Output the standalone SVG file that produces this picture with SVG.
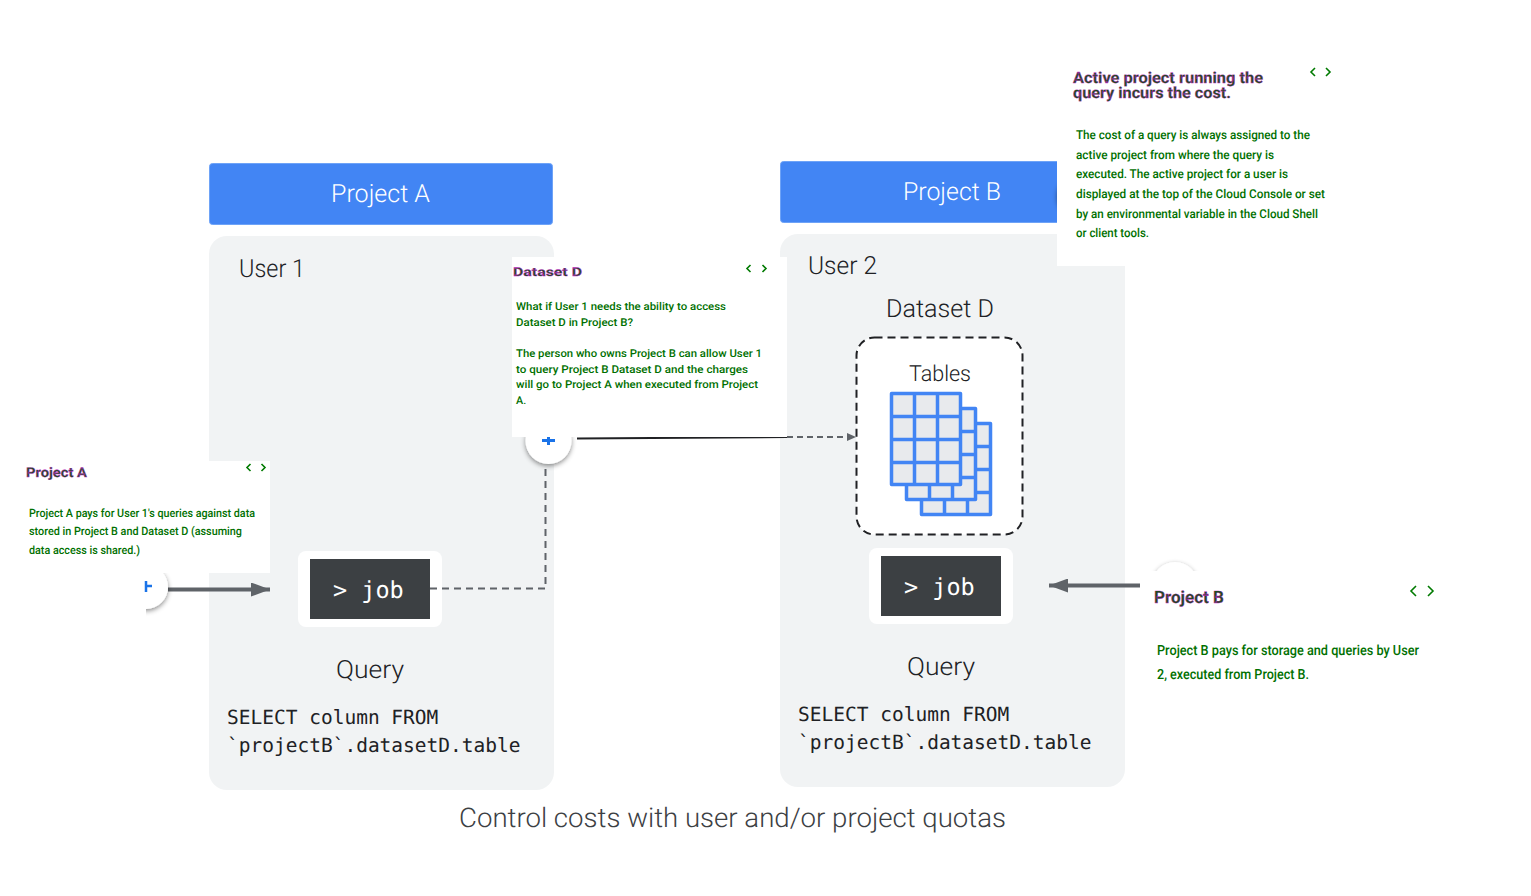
<svg xmlns="http://www.w3.org/2000/svg" width="1531" height="896" viewBox="0 0 1531 896">
<defs>
<marker id="ah" markerUnits="userSpaceOnUse" markerWidth="20" markerHeight="14" refX="19" refY="7" orient="auto"><path d="M0 0L19 7L0 14z" fill="#5f6368"/></marker>
<marker id="ahs" markerUnits="userSpaceOnUse" markerWidth="10" markerHeight="8" refX="9" refY="4" orient="auto"><path d="M0 0L9 4L0 8z" fill="#5f6368"/></marker>
<filter id="sh" x="-30%" y="-30%" width="160%" height="160%"><feDropShadow dx="0" dy="2" stdDeviation="2.500" flood-color="#000" flood-opacity=".45"/></filter>
<g id="tbl">
<path d="M1.500 1.500H70.500V92.500H1.500ZM24.500 1.500V92.500M47.500 1.500V92.500M1.500 24.500H70.500M1.500 47.500H70.500M1.500 70.500H70.500" fill="#e8eaed" stroke="#4285f4" stroke-width="3.500" stroke-linejoin="round"/>
</g>
</defs>
<style>
text{font-family:Roboto,"Liberation Sans",sans-serif;text-rendering:geometricPrecision}
.pan{fill:#f1f3f4}
.hdr{fill:#4285f4;stroke:#6ea3f7;stroke-width:1}
.ht{font-size:25px;fill:#fff;font-weight:300}
.l{font-size:25px;fill:#202124;font-weight:300}
.m{font-family:"DejaVu Sans Mono","Liberation Mono",monospace;font-size:19.500px;fill:#202124}
.jb{font-family:"DejaVu Sans Mono","Liberation Mono",monospace;font-size:23.500px;fill:#fff}
.pop{fill:#fff}
.h{font-weight:700;fill:#1f4a1f;stroke:#c81fd0;stroke-width:.35px}
.b{fill:#007000;font-weight:500}
.nav{fill:none;stroke:#007a00;stroke-width:1.600}
.cn{fill:none;stroke:#5f6368}
</style>
<rect width="1531" height="896" fill="#fff"/>
<g id="project-a">
<rect class="hdr" x="209.500" y="163.500" width="343" height="61" rx="3"/>
<text class="ht" x="331" y="202" textLength="99" lengthAdjust="spacingAndGlyphs">Project A</text>
<rect class="pan" x="209" y="236" width="345" height="554" rx="18"/>
<text class="l" x="239" y="277" textLength="66" lengthAdjust="spacingAndGlyphs">User 1</text>
<rect x="298" y="551" width="144" height="76" rx="8" fill="#fff"/>
<rect x="310" y="559" width="120" height="60" fill="#3c4043"/>
<text class="jb" x="333" y="598">&gt; job</text>
<text class="l" x="336" y="678" textLength="68" lengthAdjust="spacingAndGlyphs">Query</text>
<text class="m" x="227" y="724">SELECT column FROM</text>
<text class="m" x="227" y="752">`projectB`.datasetD.table</text>
</g>
<g id="project-b">
<rect class="hdr" x="780.500" y="161.500" width="343" height="61" rx="3"/>
<text class="ht" x="903" y="200" textLength="98" lengthAdjust="spacingAndGlyphs">Project B</text>
<rect class="pan" x="780" y="234" width="345" height="553" rx="18"/>
<text class="l" x="808" y="274" textLength="69" lengthAdjust="spacingAndGlyphs">User 2</text>
<text class="l" x="886" y="317" textLength="108" lengthAdjust="spacingAndGlyphs">Dataset D</text>
<rect x="869" y="548" width="144" height="76" rx="8" fill="#fff"/>
<rect x="881" y="556" width="120" height="60" fill="#3c4043"/>
<text class="jb" x="904" y="595">&gt; job</text>
<text class="l" x="907" y="675" textLength="68" lengthAdjust="spacingAndGlyphs">Query</text>
<text class="m" x="798" y="721">SELECT column FROM</text>
<text class="m" x="798" y="749">`projectB`.datasetD.table</text>
</g>
<g id="dataset-tables">
<rect x="856.500" y="337.500" width="166" height="197" rx="18" fill="#fff" stroke="#202124" stroke-width="2" stroke-dasharray="8 5"/>
<text x="909" y="381" font-size="22" font-weight="300" fill="#202124" textLength="62" lengthAdjust="spacingAndGlyphs">Tables</text>
<g transform="translate(920,422)"><use href="#tbl"/></g>
<g transform="translate(905,407)"><use href="#tbl"/></g>
<g transform="translate(890,392)"><use href="#tbl"/></g>
</g>
<g id="connectors">
<path class="cn" d="M430 588.500H545.500V465" stroke-width="2" stroke-dasharray="7 5"/>
<path d="M577 438.500L787 437" fill="none" stroke="#202124" stroke-width="2"/>
<path class="cn" d="M787 437H856" stroke-width="2" stroke-dasharray="6 4" marker-end="url(#ahs)"/>
<path class="cn" d="M168 589.500H270" stroke-width="4" marker-end="url(#ah)"/>
<path class="cn" d="M1140 585.500H1049" stroke-width="4" marker-end="url(#ah)"/>
</g>
<g id="hotspot-a">
<circle cx="146" cy="587" r="22" fill="#fff" filter="url(#sh)"/>
<rect x="100" y="560" width="46" height="60" fill="#fff"/>
<path d="M146 586H152M146 581V592" stroke="#1a73e8" stroke-width="2.500"/>
</g>
<g id="hotspot-d">
<circle cx="548.500" cy="441" r="23" fill="#fff" filter="url(#sh)"/>
<path d="M542 440.500H555M548.500 437V445" stroke="#1a73e8" stroke-width="3"/>
</g>
<g id="hotspot-b">
<circle cx="1175" cy="585" r="23" fill="#fff" filter="url(#sh)"/>
</g>
<g id="hotspot-active">
<circle cx="1080" cy="195" r="23" fill="#fff" filter="url(#sh)"/>
</g>
<g id="popup-a">
<rect class="pop" x="0" y="461" width="270" height="112"/>
<text class="h" x="26" y="477" font-size="13.500" textLength="61" lengthAdjust="spacingAndGlyphs">Project A</text>
<path class="nav" d="M250.500 464L247 467.500L250.500 471M261.500 464L265 467.500L261.500 471"/>
<g class="b" font-size="11.500"><text x="29" y="517" textLength="226" lengthAdjust="spacingAndGlyphs">Project A pays for User 1's queries against data</text><text x="29" y="535" textLength="213" lengthAdjust="spacingAndGlyphs">stored in Project B and Dataset D (assuming</text><text x="29" y="554" textLength="111" lengthAdjust="spacingAndGlyphs">data access is shared.)</text></g>
</g>
<g id="popup-d">
<rect class="pop" x="512" y="257" width="275" height="180"/>
<text class="h" x="513" y="276" font-size="12" textLength="69" lengthAdjust="spacingAndGlyphs">Dataset D</text>
<path class="nav" d="M750.500 265L747 268.500L750.500 272M762.500 265L766 268.500L762.500 272"/>
<g class="b" font-size="10.800"><text x="516" y="310" textLength="210" lengthAdjust="spacingAndGlyphs">What if User 1 needs the ability to access</text><text x="516" y="326" textLength="117" lengthAdjust="spacingAndGlyphs">Dataset D in Project B?</text><text x="516" y="357" textLength="246" lengthAdjust="spacingAndGlyphs">The person who owns Project B can allow User 1</text><text x="516" y="373" textLength="232" lengthAdjust="spacingAndGlyphs">to query Project B Dataset D and the charges</text><text x="516" y="388" textLength="242" lengthAdjust="spacingAndGlyphs">will go to Project A when executed from Project</text><text x="516" y="404">A.</text></g>
</g>
<g id="popup-active">
<rect class="pop" x="1057" y="60" width="284" height="206"/>
<g class="h" font-size="15.500"><text x="1073" y="83" textLength="190" lengthAdjust="spacingAndGlyphs">Active project running the</text><text x="1073" y="98" textLength="158" lengthAdjust="spacingAndGlyphs">query incurs the cost.</text></g>
<path class="nav" d="M1315 68L1311 72L1315 76M1326 68L1330 72L1326 76"/>
<g class="b" font-size="12.200"><text x="1076" y="139" textLength="234" lengthAdjust="spacingAndGlyphs">The cost of a query is always assigned to the</text><text x="1076" y="159" textLength="198" lengthAdjust="spacingAndGlyphs">active project from where the query is</text><text x="1076" y="178" textLength="212" lengthAdjust="spacingAndGlyphs">executed. The active project for a user is</text><text x="1076" y="198" textLength="249" lengthAdjust="spacingAndGlyphs">displayed at the top of the Cloud Console or set</text><text x="1076" y="218" textLength="242" lengthAdjust="spacingAndGlyphs">by an environmental variable in the Cloud Shell</text><text x="1076" y="237" textLength="73" lengthAdjust="spacingAndGlyphs">or client tools.</text></g>
</g>
<g id="popup-b">
<rect class="pop" x="1140" y="571" width="310" height="130"/>
<text class="h" x="1154" y="603" font-size="17" textLength="70" lengthAdjust="spacingAndGlyphs">Project B</text>
<path class="nav" d="M1416 586L1411 591L1416 596M1428 586L1433 591L1428 596"/>
<g class="b" font-size="14"><text x="1157" y="655" textLength="262" lengthAdjust="spacingAndGlyphs">Project B pays for storage and queries by User</text><text x="1157" y="679" textLength="152" lengthAdjust="spacingAndGlyphs">2, executed from Project B.</text></g>
</g>
<text id="caption" x="459" y="827" font-size="27" font-weight="300" fill="#3c4043" textLength="547" lengthAdjust="spacingAndGlyphs">Control costs with user and/or project quotas</text>
</svg>
